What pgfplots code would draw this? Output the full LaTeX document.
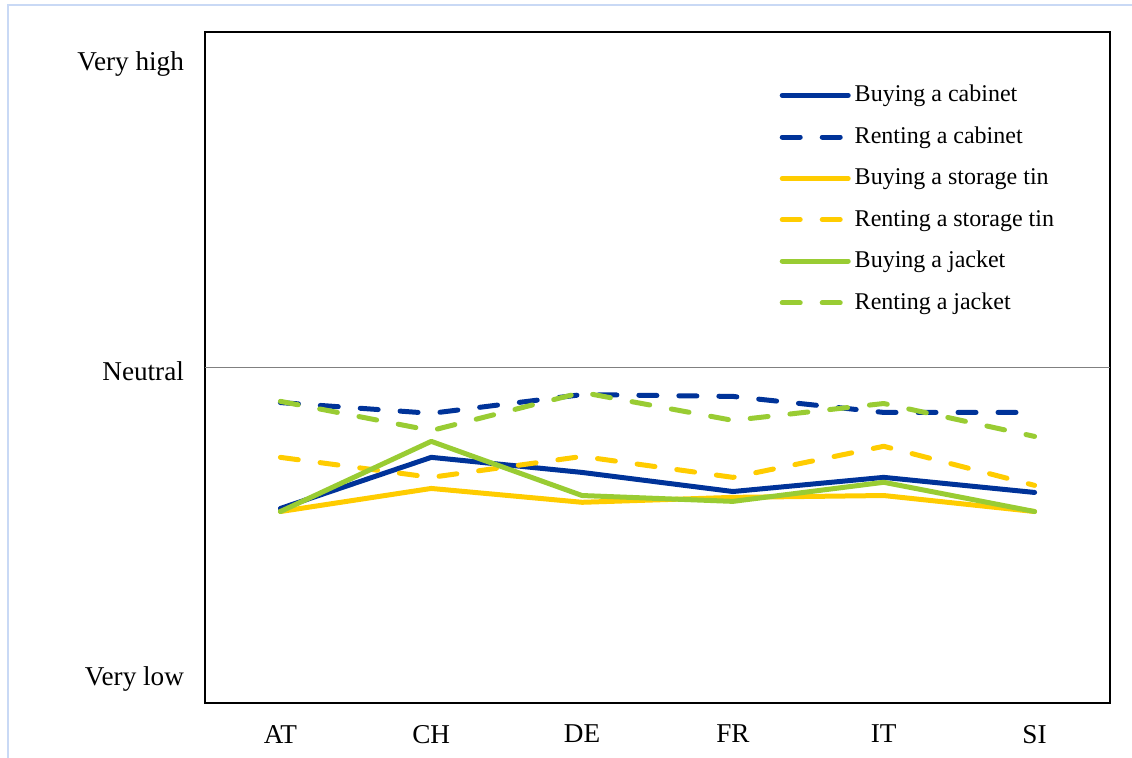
\documentclass[border=0pt]{standalone}
\usepackage{fontspec}
\setmainfont{Liberation Serif}
\usepackage{pgfplots}
\pgfplotsset{compat=1.18}
\definecolor{cabblue}{HTML}{003399}
\definecolor{tinyellow}{HTML}{FFCC00}
\definecolor{jackgreen}{HTML}{99CC33}
\definecolor{framebl}{HTML}{C9D9F5}

\begin{document}
\begin{tikzpicture}
\useasboundingbox (0,0) rectangle (566pt,379pt);
\draw[framebl, line width=1pt] (4pt,0) -- (4pt,376.5pt) -- (566pt,376.5pt);
\begin{axis}[
  at={(102.5pt,27.5pt)}, anchor=south west,
  scale only axis, width=452.5pt, height=335.5pt,
  xmin=-0.5, xmax=5.5, ymin=-1.09, ymax=1.09,
  xtick={0,...,5}, xticklabels={AT,CH,DE,FR,IT,SI},
  ytick={-1,1}, yticklabels={Very low,Very high},
  extra y ticks={0}, extra y tick labels={Neutral},
  extra y tick style={grid=major, major grid style={black!50, line width=0.7pt}},
  major tick length=0pt,
  axis line style={line width=1pt},
  tick label style={font=\fontsize{13.6}{15}\selectfont},
  yticklabel style={xshift=-7pt, yshift=-2pt},
  xticklabel style={yshift=-7.5pt},
  every axis plot/.append style={line width=2.5pt, line cap=round, line join=round},
  legend style={at={(0.628,0.933)}, anchor=north west, draw=none, fill=none,
    font=\fontsize{12}{14}\selectfont, row sep=7.1pt, cells={anchor=west}},
  legend image code/.code={\draw[#1] (0pt,0pt) -- (33pt,0pt);},
  rentdash/.style={dash pattern=on 9pt off 11pt},
]
\addplot[cabblue] coordinates {(0,-0.458) (1,-0.292) (2,-0.341) (3,-0.403) (4,-0.357) (5,-0.406)};
\addlegendentry{Buying a cabinet}
\addplot[cabblue, rentdash] coordinates {(0,-0.114) (1,-0.149) (2,-0.088) (3,-0.094) (4,-0.146) (5,-0.146)};
\addlegendentry{Renting a cabinet}
\addplot[tinyellow] coordinates {(0,-0.468) (1,-0.393) (2,-0.438) (3,-0.422) (4,-0.416) (5,-0.468)};
\addlegendentry{Buying a storage tin}
\addplot[tinyellow, rentdash] coordinates {(0,-0.292) (1,-0.357) (2,-0.289) (3,-0.357) (4,-0.256) (5,-0.383)};
\addlegendentry{Renting a storage tin}
\addplot[jackgreen] coordinates {(0,-0.468) (1,-0.240) (2,-0.416) (3,-0.435) (4,-0.373) (5,-0.468)};
\addlegendentry{Buying a jacket}
\addplot[jackgreen, rentdash] coordinates {(0,-0.110) (1,-0.205) (2,-0.081) (3,-0.172) (4,-0.117) (5,-0.224)};
\addlegendentry{Renting a jacket}
\end{axis}
\end{tikzpicture}
\end{document}
